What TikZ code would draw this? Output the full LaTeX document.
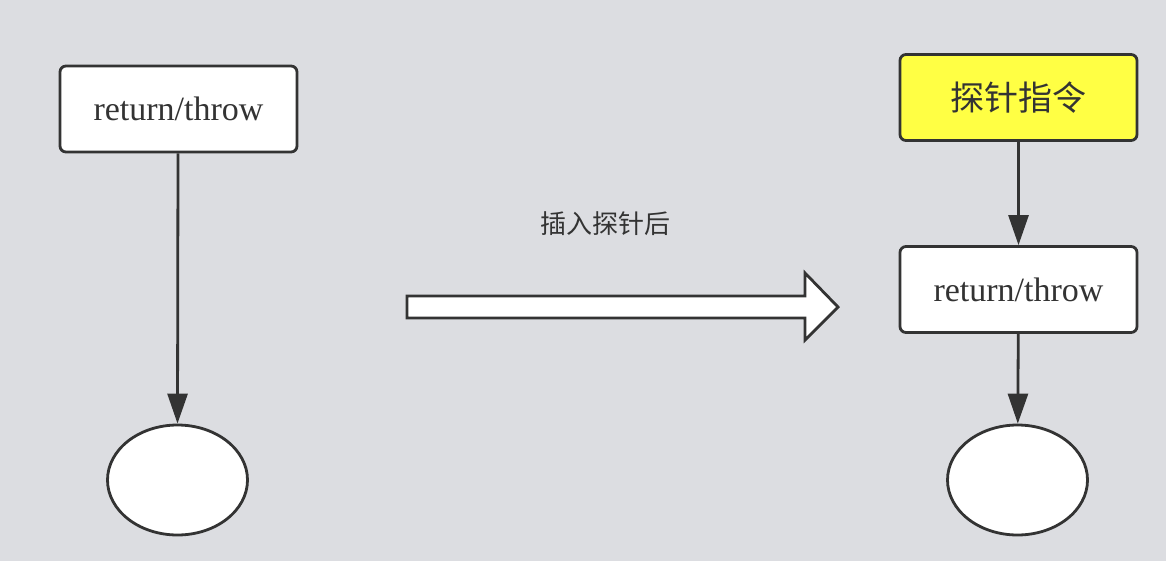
\documentclass[tikz,border=0pt]{standalone}
\usepackage{fontspec}
\setmainfont{Liberation Serif}
\newfontfamily\cjk{Noto Sans CJK SC}
\usetikzlibrary{arrows.meta,shapes.geometric}
\definecolor{bg}{HTML}{DCDDE1}
\definecolor{ink}{HTML}{333333}
\definecolor{ylw}{HTML}{FFFF44}
\tikzset{
  box/.style={draw=ink, line width=2.8pt, rounded corners=6pt, fill=white,
    minimum width=237pt, minimum height=86pt, inner sep=0pt, text=ink,
    font=\fontsize{34}{38}\selectfont},
  probe/.style={box, fill=ylw, font=\cjk\fontsize{34}{38}\selectfont},
  endnode/.style={draw=ink, ellipse, line width=2.8pt, fill=white,
    minimum width=140pt, minimum height=110pt, inner sep=0pt},
  conn/.style={draw=ink, line width=2.8pt, -{Triangle[length=30pt,width=20pt]}},
  label/.style={text=ink, font=\cjk\fontsize{26}{30}\selectfont}
}
\begin{document}
\begin{tikzpicture}[x=1pt,y=-1pt]
\useasboundingbox (0,0) rectangle (1166,560);
\fill[bg] (-2,-2) rectangle (1168,562);
% left
\node[box] (b1) at (178.5,109) {return/throw};
\node[endnode] (e1) at (177.5,480) {};
\draw[conn] (b1.south -| 178,0) -- (e1.north);
% right
\node[probe] (p) at (1018.5,97.5) {探针指令};
\node[box] (b2) at (1018.5,289.5) {return/throw};
\node[endnode] (e2) at (1017.5,480) {};
\draw[conn] (p) -- (b2);
\draw[conn] (b2) -- (e2);
% big arrow
\node[label] (lbl) at (605,224) {插入探针后};
\draw[draw=ink, fill=white, line width=2.8pt, line join=miter]
  (407,296) -- (805,296) -- (805,273) -- (838,307) -- (805,340) -- (805,318) -- (407,318) -- cycle;
\end{tikzpicture}
\end{document}
